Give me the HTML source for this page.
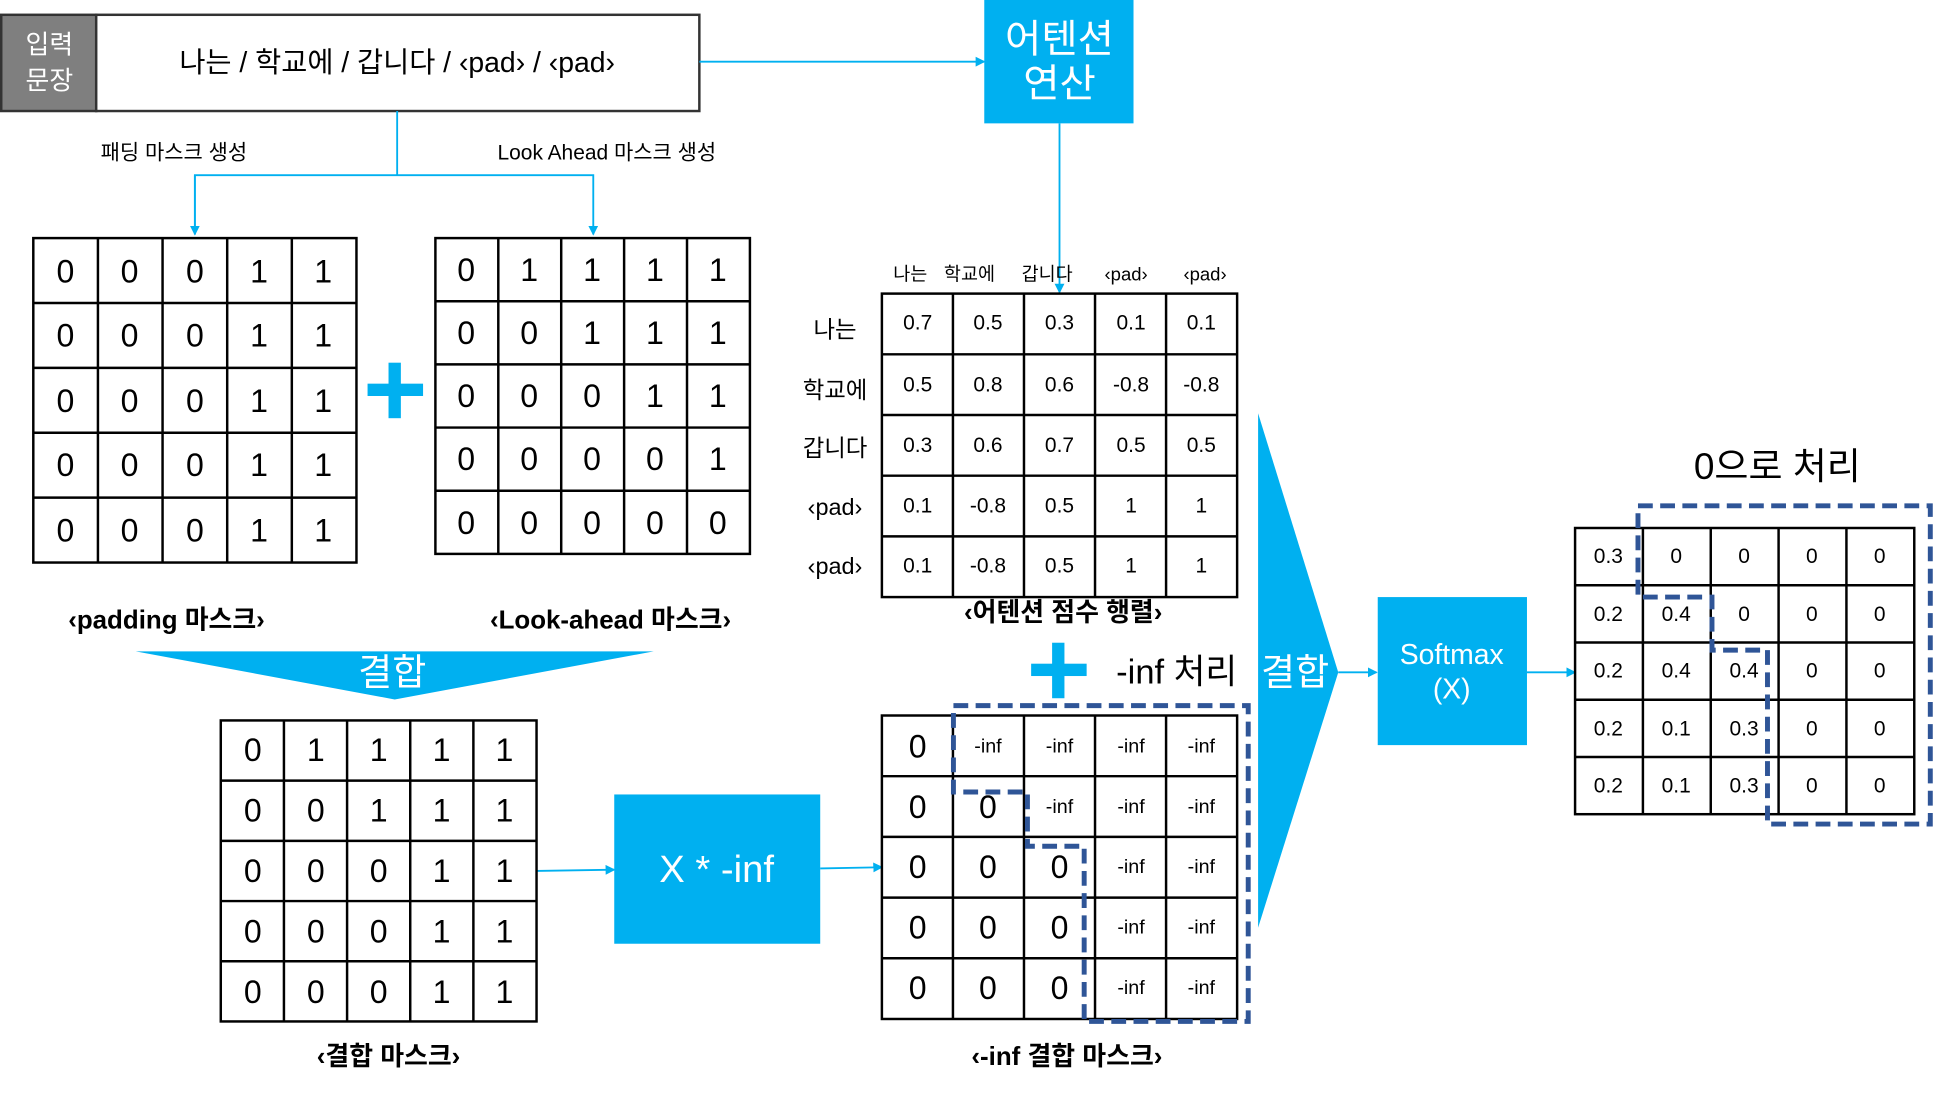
<!DOCTYPE html>
<html><head><meta charset="utf-8"><style>
html,body{margin:0;padding:0;background:#fff;width:1934px;height:1093px;overflow:hidden}
svg{display:block}
text{font-family:"Liberation Sans","Noto Sans CJK KR",sans-serif;text-anchor:middle;dominant-baseline:central}
.n{font-size:26px}.s{font-size:17px}.i{font-size:16px}
.w{fill:#fff}
.b{font-weight:bold;font-size:21px}
</style></head><body>
<svg width="1934" height="1093" viewBox="0 0 1568 886" preserveAspectRatio="none">
<defs><marker id="a" markerWidth="8" markerHeight="8" refX="7" refY="4" orient="auto" markerUnits="userSpaceOnUse"><path d="M0,0 L8,4 L0,8z" fill="#00B0F0"/></marker></defs>
<rect x="1" y="12" width="77" height="78" fill="#7f7f7f" stroke="#333" stroke-width="2"/>
<text x="40" y="37" class="w" font-size="21">입력</text><text x="40" y="66" class="w" font-size="21">문장</text>
<rect x="78" y="12" width="489" height="78" fill="#fff" stroke="#333" stroke-width="2"/>
<text x="322" y="51" font-size="23">나는 / 학교에 / 갑니다 / ‹pad› / ‹pad›</text>
<g stroke="#00B0F0" stroke-width="1.5" fill="none">
<line x1="567" y1="50" x2="798" y2="50" marker-end="url(#a)"/>
<polyline points="322,90 322,142"/>
<polyline points="158,190 158,142 481,142 481,190" marker-end="url(#a)"/>
<line x1="158" y1="142" x2="158" y2="190" marker-end="url(#a)"/>
<line x1="859" y1="100" x2="859" y2="237" marker-end="url(#a)"/>
<line x1="435" y1="706" x2="498" y2="705" marker-end="url(#a)"/>
<line x1="665" y1="704" x2="715" y2="703" marker-end="url(#a)"/>
<line x1="1085" y1="545" x2="1116" y2="545" marker-end="url(#a)"/>
<line x1="1238" y1="545" x2="1277" y2="545" marker-end="url(#a)"/>
</g>
<text x="141" y="124" font-size="17">패딩 마스크 생성</text>
<text x="492" y="124" font-size="17">Look Ahead 마스크 생성</text>
<rect x="798" y="0" width="121" height="100" fill="#00B0F0"/>
<text x="859" y="32" class="w" font-size="32">어텐션</text><text x="859" y="68" class="w" font-size="32">연산</text>
<g stroke="#000" stroke-width="2" fill="none">
<rect x="27" y="193" width="262" height="263"/>
<path d="M79.4 193V456M131.8 193V456M184.2 193V456M236.6 193V456M27 245.6H289M27 298.2H289M27 350.8H289M27 403.4H289"/>
<rect x="353" y="193" width="255" height="256"/>
<path d="M404 193V449M455 193V449M506 193V449M557 193V449M353 244.2H608M353 295.4H608M353 346.6H608M353 397.8H608"/>
<rect x="179" y="584" width="256" height="244"/>
<path d="M230.2 584V828M281.4 584V828M332.6 584V828M383.8 584V828M179 632.8H435M179 681.6H435M179 730.4H435M179 779.2H435"/>
<rect x="715" y="580" width="288" height="246"/>
<path d="M772.6 580V826M830.2 580V826M887.8 580V826M945.4 580V826M715 629.2H1003M715 678.4H1003M715 727.6H1003M715 776.8H1003"/>
<rect x="715" y="238" width="288" height="246"/>
<path d="M772.6 238V484M830.2 238V484M887.8 238V484M945.4 238V484M715 287.2H1003M715 336.4H1003M715 385.6H1003M715 434.8H1003"/>
<rect x="1277" y="428" width="275" height="232"/>
<path d="M1332 428V660M1387 428V660M1442 428V660M1497 428V660M1277 474.4H1552M1277 520.8H1552M1277 567.2H1552M1277 613.6H1552"/>
</g>
<g class="n">
<text x="53" y="220">0</text><text x="105" y="220">0</text><text x="158" y="220">0</text><text x="210" y="220">1</text><text x="262" y="220">1</text>
<text x="53" y="272">0</text><text x="105" y="272">0</text><text x="158" y="272">0</text><text x="210" y="272">1</text><text x="262" y="272">1</text>
<text x="53" y="325">0</text><text x="105" y="325">0</text><text x="158" y="325">0</text><text x="210" y="325">1</text><text x="262" y="325">1</text>
<text x="53" y="377">0</text><text x="105" y="377">0</text><text x="158" y="377">0</text><text x="210" y="377">1</text><text x="262" y="377">1</text>
<text x="53" y="430">0</text><text x="105" y="430">0</text><text x="158" y="430">0</text><text x="210" y="430">1</text><text x="262" y="430">1</text>
<text x="378" y="219">0</text><text x="429" y="219">1</text><text x="480" y="219">1</text><text x="531" y="219">1</text><text x="582" y="219">1</text>
<text x="378" y="270">0</text><text x="429" y="270">0</text><text x="480" y="270">1</text><text x="531" y="270">1</text><text x="582" y="270">1</text>
<text x="378" y="321">0</text><text x="429" y="321">0</text><text x="480" y="321">0</text><text x="531" y="321">1</text><text x="582" y="321">1</text>
<text x="378" y="372">0</text><text x="429" y="372">0</text><text x="480" y="372">0</text><text x="531" y="372">0</text><text x="582" y="372">1</text>
<text x="378" y="424">0</text><text x="429" y="424">0</text><text x="480" y="424">0</text><text x="531" y="424">0</text><text x="582" y="424">0</text>
<text x="205" y="608">0</text><text x="256" y="608">1</text><text x="307" y="608">1</text><text x="358" y="608">1</text><text x="409" y="608">1</text>
<text x="205" y="657">0</text><text x="256" y="657">0</text><text x="307" y="657">1</text><text x="358" y="657">1</text><text x="409" y="657">1</text>
<text x="205" y="706">0</text><text x="256" y="706">0</text><text x="307" y="706">0</text><text x="358" y="706">1</text><text x="409" y="706">1</text>
<text x="205" y="755">0</text><text x="256" y="755">0</text><text x="307" y="755">0</text><text x="358" y="755">1</text><text x="409" y="755">1</text>
<text x="205" y="804">0</text><text x="256" y="804">0</text><text x="307" y="804">0</text><text x="358" y="804">1</text><text x="409" y="804">1</text>
<text x="744" y="605">0</text>
<text x="744" y="654">0</text><text x="801" y="654">0</text>
<text x="744" y="703">0</text><text x="801" y="703">0</text><text x="859" y="703">0</text>
<text x="744" y="752">0</text><text x="801" y="752">0</text><text x="859" y="752">0</text>
<text x="744" y="801">0</text><text x="801" y="801">0</text><text x="859" y="801">0</text>
</g>
<g class="i">
<text x="801" y="605">-inf</text><text x="859" y="605">-inf</text><text x="917" y="605">-inf</text><text x="974" y="605">-inf</text>
<text x="859" y="654">-inf</text><text x="917" y="654">-inf</text><text x="974" y="654">-inf</text>
<text x="917" y="703">-inf</text><text x="974" y="703">-inf</text>
<text x="917" y="752">-inf</text><text x="974" y="752">-inf</text>
<text x="917" y="801">-inf</text><text x="974" y="801">-inf</text>
</g>
<g font-size="15"><text x="738" y="222">나는</text><text x="786" y="222">학교에</text><text x="849" y="222">갑니다</text><text x="913" y="222">‹pad›</text><text x="977" y="222">‹pad›</text></g>
<g font-size="19"><text x="677" y="267">나는</text><text x="677" y="316">학교에</text><text x="677" y="363">갑니다</text><text x="677" y="411">‹pad›</text><text x="677" y="459">‹pad›</text></g>
<g class="s">
<text x="744" y="262">0.7</text><text x="801" y="262">0.5</text><text x="859" y="262">0.3</text><text x="917" y="262">0.1</text><text x="974" y="262">0.1</text>
<text x="744" y="312">0.5</text><text x="801" y="312">0.8</text><text x="859" y="312">0.6</text><text x="917" y="312">-0.8</text><text x="974" y="312">-0.8</text>
<text x="744" y="361">0.3</text><text x="801" y="361">0.6</text><text x="859" y="361">0.7</text><text x="917" y="361">0.5</text><text x="974" y="361">0.5</text>
<text x="744" y="410">0.1</text><text x="801" y="410">-0.8</text><text x="859" y="410">0.5</text><text x="917" y="410">1</text><text x="974" y="410">1</text>
<text x="744" y="459">0.1</text><text x="801" y="459">-0.8</text><text x="859" y="459">0.5</text><text x="917" y="459">1</text><text x="974" y="459">1</text>
<text x="1304" y="451">0.3</text><text x="1359" y="451">0</text><text x="1414" y="451">0</text><text x="1469" y="451">0</text><text x="1524" y="451">0</text>
<text x="1304" y="498">0.2</text><text x="1359" y="498">0.4</text><text x="1414" y="498">0</text><text x="1469" y="498">0</text><text x="1524" y="498">0</text>
<text x="1304" y="544">0.2</text><text x="1359" y="544">0.4</text><text x="1414" y="544">0.4</text><text x="1469" y="544">0</text><text x="1524" y="544">0</text>
<text x="1304" y="591">0.2</text><text x="1359" y="591">0.1</text><text x="1414" y="591">0.3</text><text x="1469" y="591">0</text><text x="1524" y="591">0</text>
<text x="1304" y="637">0.2</text><text x="1359" y="637">0.1</text><text x="1414" y="637">0.3</text><text x="1469" y="637">0</text><text x="1524" y="637">0</text>
</g>
<text class="b" x="135" y="503">‹padding 마스크›</text>
<text class="b" x="495" y="503">‹Look-ahead 마스크›</text>
<text class="b" x="862" y="497">‹어텐션 점수 행렬›</text>
<text class="b" x="315" y="857">‹결합 마스크›</text>
<text class="b" x="865" y="857">‹-inf 결합 마스크›</text>
<g fill="#00B0F0"><rect x="298" y="311" width="45" height="10"/><rect x="315" y="294" width="10" height="45"/>
<rect x="836" y="538" width="45" height="10"/><rect x="853" y="521" width="10" height="45"/></g>
<text x="954" y="545" font-size="28">-inf 처리</text>
<polygon points="110,528 530,528 320,567" fill="#00B0F0"/>
<text x="318" y="545" class="w" font-size="30">결합</text>
<polygon points="1020,335 1085,545 1020,752" fill="#00B0F0"/>
<text x="1050" y="545" class="w" font-size="30">결합</text>
<rect x="498" y="644" width="167" height="121" fill="#00B0F0"/>
<text x="581" y="705" class="w" font-size="31">X * -inf</text>
<rect x="1117" y="484" width="121" height="120" fill="#00B0F0"/>
<text x="1177" y="531" class="w" font-size="23">Softmax</text><text x="1177" y="559" class="w" font-size="23">(X)</text>
<text x="1441" y="378" font-size="30">0으로 처리</text>
<g stroke="#2F5597" stroke-width="4" stroke-dasharray="12,6" fill="none">
<polygon points="773,572 1012,572 1012,828 879,828 879,686 833,686 833,642 773,642"/>
<polygon points="1328,410 1565,410 1565,668 1433,668 1433,527 1388,527 1388,484 1328,484"/>
</g>
</svg>
</body></html>
